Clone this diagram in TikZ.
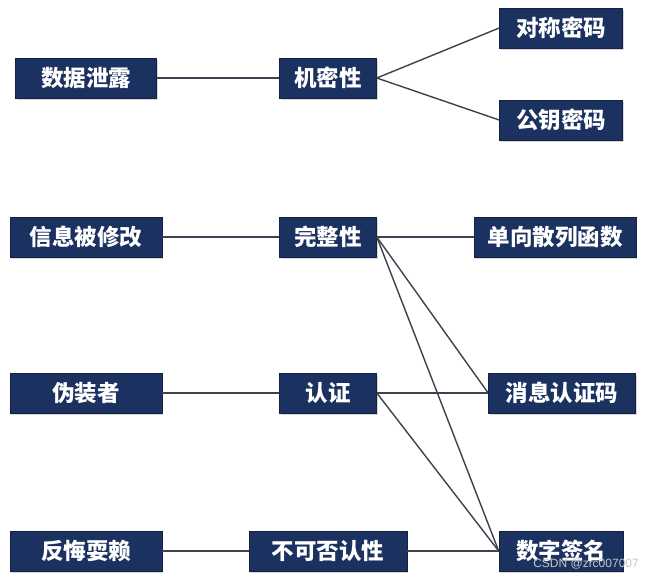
\documentclass[tikz,border=0pt]{standalone}
\usepackage{fontspec}
\newfontfamily\cjk{Noto Sans CJK SC}
\newfontfamily\wmfont{Liberation Sans}
\usetikzlibrary{shadows}

\definecolor{navy}{HTML}{1B3160}
\definecolor{linegray}{HTML}{3C4250}

\begin{document}
\begin{tikzpicture}[
    x=1pt, y=-1pt,
    % Sötétkék dobozok árnyékkal
    box/.style={
        draw=navy!70!black, line width=0.6pt, fill=navy, text=white,
        font=\cjk\bfseries\fontsize{22.5}{22.5}\selectfont,
        minimum height=40pt, inner sep=0pt,
        drop shadow={shadow xshift=1.2pt, shadow yshift=-1.8pt, opacity=0.3}
    },
    % Összekötő vonalak
    link/.style={linegray, line width=1.4pt}
]
    \useasboundingbox (0,0) rectangle (653,579);
    \fill[white] (0,0) rectangle (653,579);

    % Első sor: bal oldali fenyegetések
    \node[box, minimum width=141pt] (leak)   at (86,78)  {数据泄露};
    \node[box, minimum width=152pt] (modify) at (86,237) {信息被修改};
    \node[box, minimum width=152pt] (fake)   at (86,393) {伪装者};
    \node[box, minimum width=152pt] (deny)   at (86,551) {反悔耍赖};

    % Középső oszlop: biztonsági tulajdonságok
    \node[box, minimum width=97pt]  (conf)   at (328,78)  {机密性};
    \node[box, minimum width=97pt]  (integ)  at (328,237) {完整性};
    \node[box, minimum width=97pt]  (auth)   at (328,393) {认证};
    \node[box, minimum width=158pt] (nonrep) at (328,551) {不可否认性};

    % Jobb oldali oszlop: technikák
    \node[box, minimum width=123pt] (sym)    at (561,28)  {对称密码};
    \node[box, minimum width=123pt] (pub)    at (561,120) {公钥密码};
    \node[box, minimum width=162pt] (hash)   at (555,237) {单向散列函数};
    \node[box, minimum width=147pt] (mac)    at (562,393) {消息认证码};
    \node[box, minimum width=124pt] (sig)    at (561,551) {数字签名};

    % Vízszintes kapcsolatok
    \draw[link] (leak) -- (conf);
    \draw[link] (modify) -- (integ) -- (hash);
    \draw[link] (fake) -- (auth) -- (mac);
    \draw[link] (deny) -- (nonrep) -- (sig);

    % Ferde kapcsolatok
    \draw[link] (conf.east) -- (sym.west);
    \draw[link] (conf.east) -- (pub.west);
    \draw[link] (integ.east) -- (mac.west);
    \draw[link] (integ.east) -- (sig.west);
    \draw[link] (auth.east) -- (sig.west);

    % Vízjel
    \node[font=\wmfont\fontsize{12}{12}\selectfont, text=gray!45, anchor=east, inner sep=0pt]
        (mark) at (639,564) {CSDN @zrc007007};
\end{tikzpicture}
\end{document}
